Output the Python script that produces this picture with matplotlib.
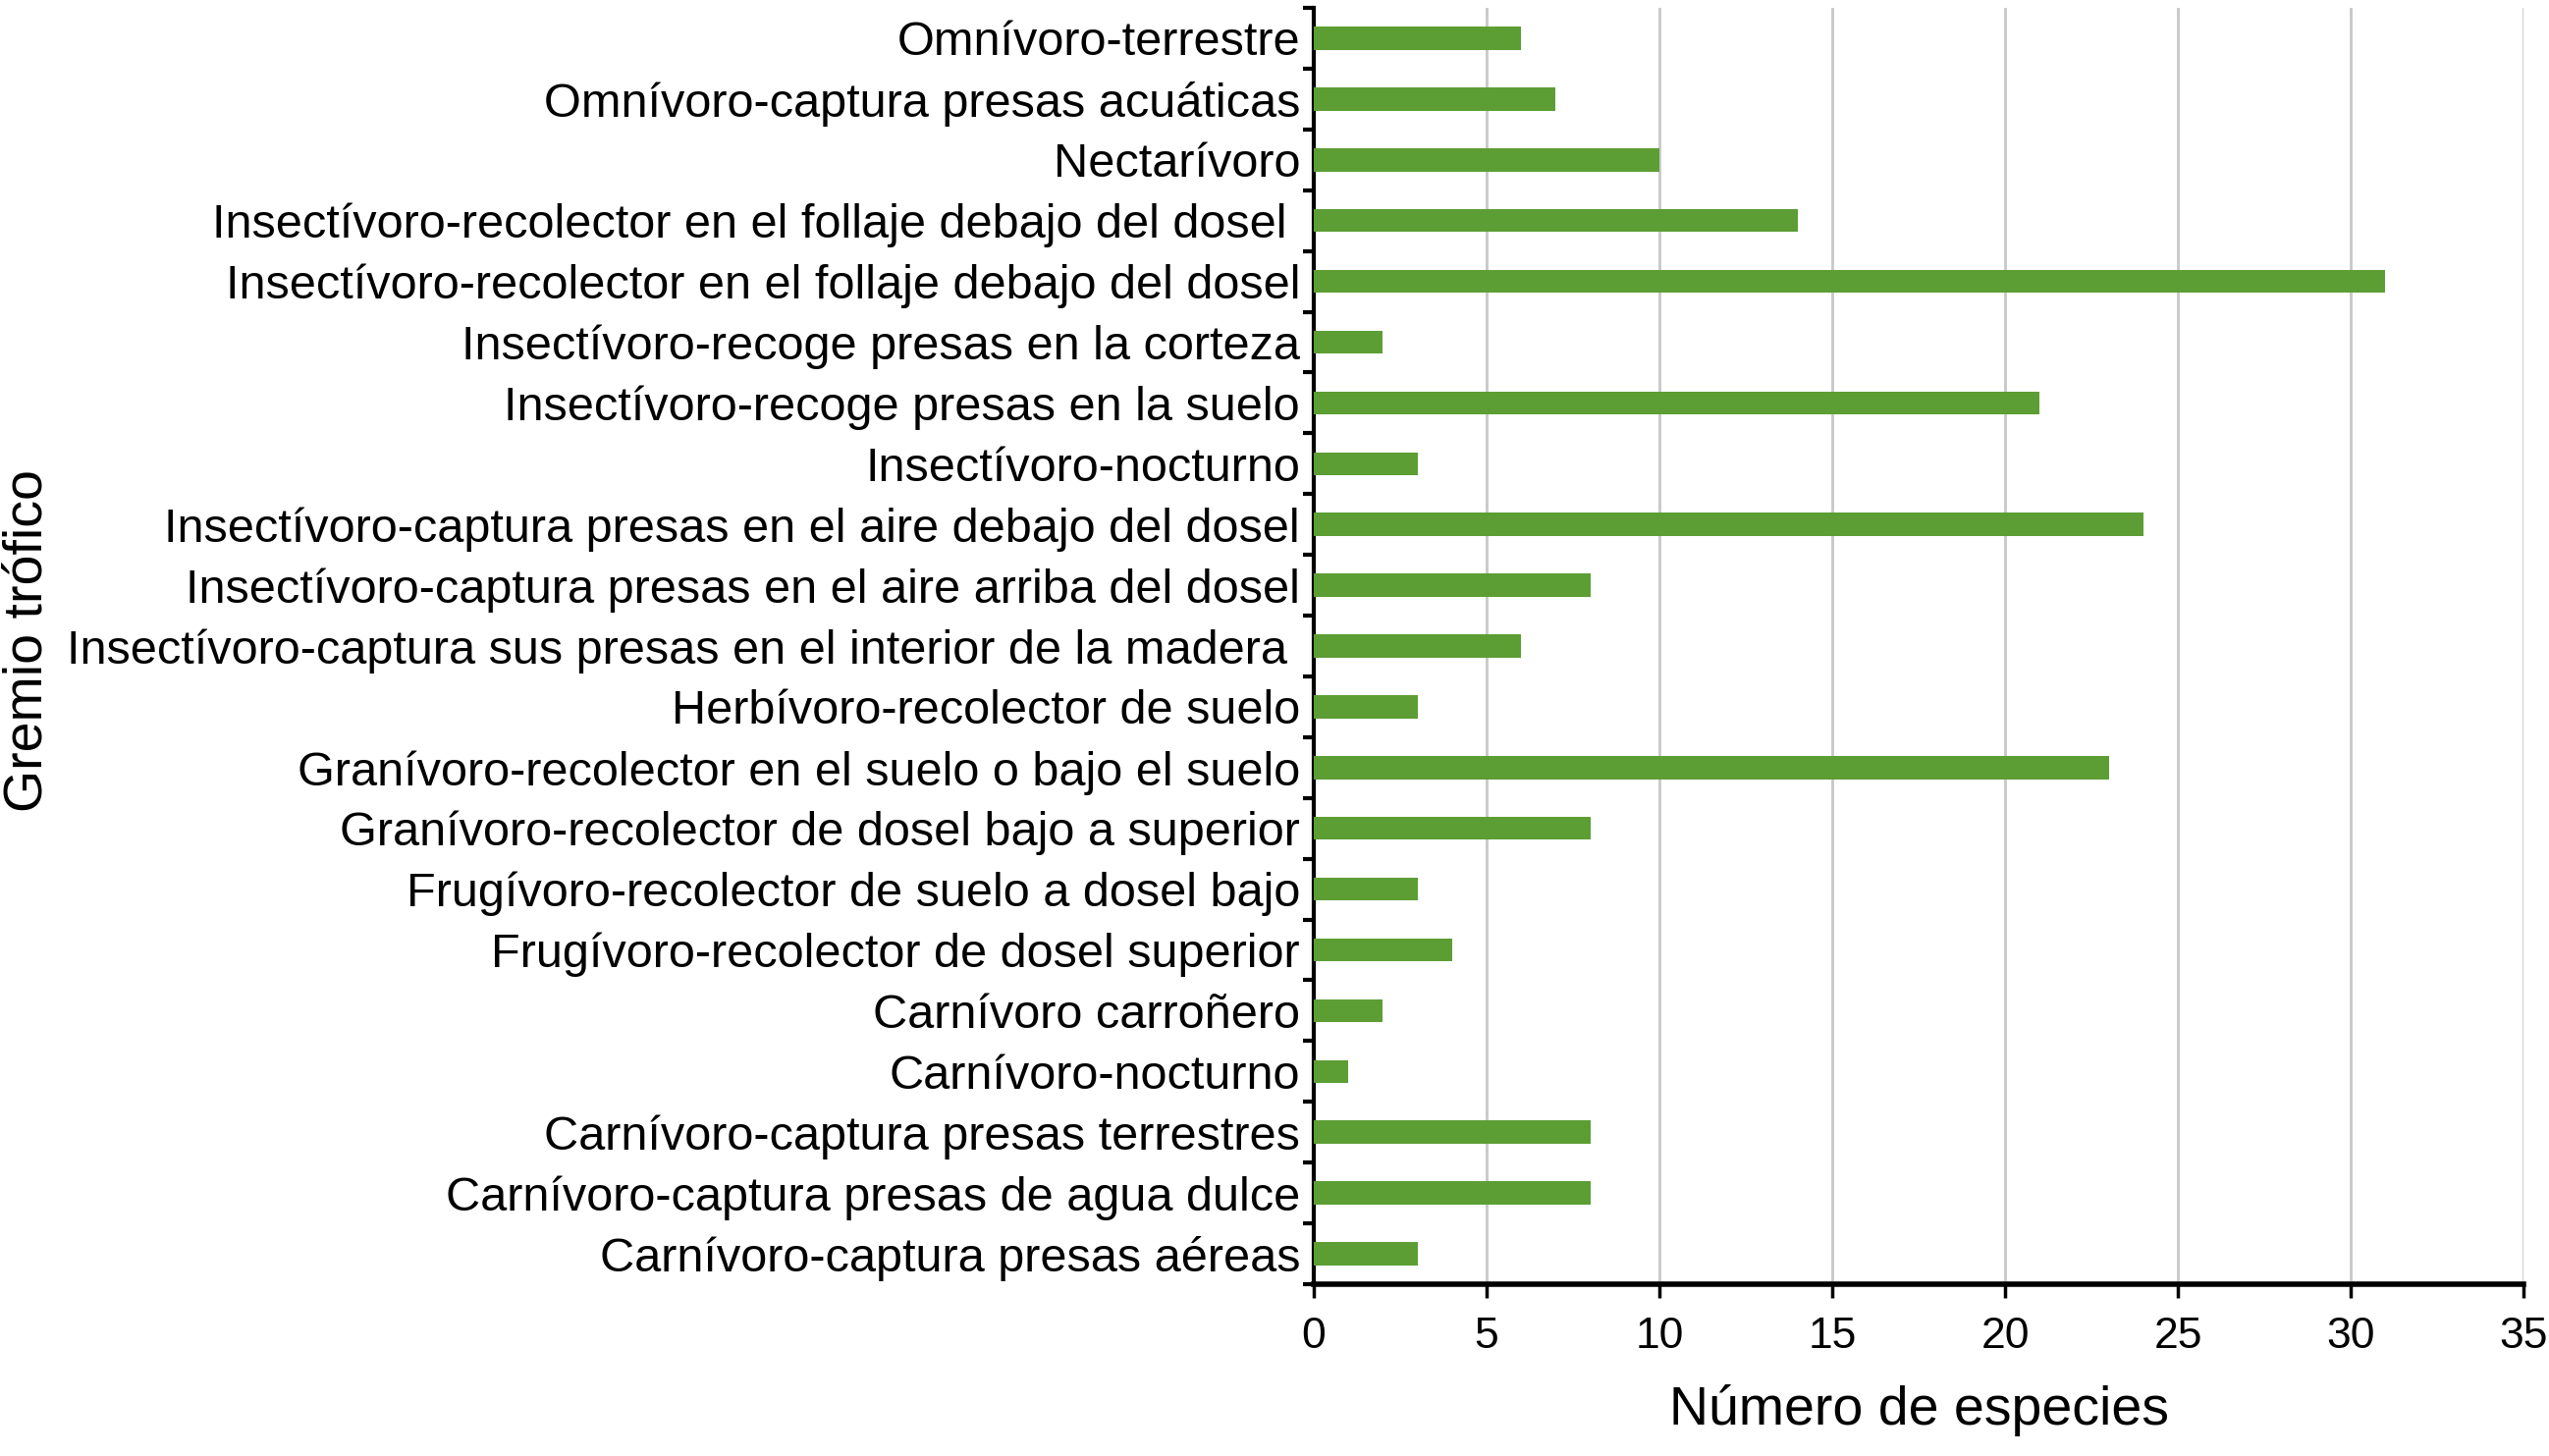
import numpy as np
import matplotlib.pyplot as plt
from matplotlib.ticker import MultipleLocator, FixedLocator

plt.rcParams['font.family'] = ['Liberation Sans Narrow', 'Liberation Sans', 'DejaVu Sans']

# categories, top to bottom as in the figure
gremios = [
    "Omnívoro-terrestre",
    "Omnívoro-captura presas acuáticas",
    "Nectarívoro",
    "Insectívoro-recolector en el follaje debajo del dosel ",
    "Insectívoro-recolector en el follaje debajo del dosel",
    "Insectívoro-recoge presas en la corteza",
    "Insectívoro-recoge presas en la suelo",
    "Insectívoro-nocturno",
    "Insectívoro-captura presas en el aire debajo del dosel",
    "Insectívoro-captura presas en el aire arriba del dosel",
    "Insectívoro-captura sus presas en el interior de la madera ",
    "Herbívoro-recolector de suelo",
    "Granívoro-recolector en el suelo o bajo el suelo",
    "Granívoro-recolector de dosel bajo a superior",
    "Frugívoro-recolector de suelo a dosel bajo",
    "Frugívoro-recolector de dosel superior",
    "Carnívoro carroñero",
    "Carnívoro-nocturno",
    "Carnívoro-captura presas terrestres",
    "Carnívoro-captura presas de agua dulce",
    "Carnívoro-captura presas aéreas",
]
especies = [6, 7, 10, 14, 31, 2, 21, 3, 24, 8, 6, 3, 23, 8, 3, 4, 2, 1, 8, 8, 3]

fig = plt.figure(figsize=(25.96, 14.83), dpi=100)
ax = fig.add_axes([0.5154, 0.118, 0.4746, 0.8766])

y = np.arange(len(gremios))
ax.barh(y, especies, height=0.38, color='#5c9e34', zorder=3)

ax.set_ylim(len(gremios) - 0.5, -0.5)
ax.set_xlim(0, 35)

ax.set_yticks(y)
ax.set_yticklabels(gremios, fontsize=35)
ax.tick_params(axis='y', which='major', length=0, pad=10)
ax.yaxis.set_minor_locator(FixedLocator(np.arange(-0.5, len(gremios), 1.0)))
ax.tick_params(axis='y', which='minor', length=8, width=3, direction='out')

ax.xaxis.set_major_locator(MultipleLocator(5))
ax.tick_params(axis='x', which='major', labelsize=32, length=10, width=2.5, pad=14)

ax.grid(axis='x', color='#c8c8c8', linewidth=2, zorder=0)

for s in ['top', 'right']:
    ax.spines[s].set_visible(False)
ax.spines['left'].set_linewidth(3)
ax.spines['bottom'].set_linewidth(4)

ax.set_xlabel('Número de especies', fontsize=40, labelpad=20)
fig.text(0.011, 0.56, 'Gremio trófico', rotation=90, fontsize=40,
         family=['Liberation Sans', 'DejaVu Sans'], ha='center', va='center')

plt.savefig('out.png', dpi=100)
